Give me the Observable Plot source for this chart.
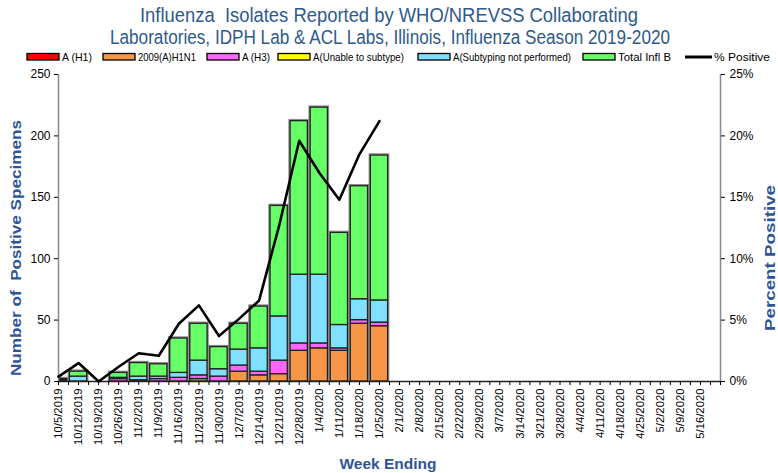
<!DOCTYPE html>
<html><head><meta charset="utf-8">
<script src="https://cdn.jsdelivr.net/npm/d3@7"></script>
<script src="https://cdn.jsdelivr.net/npm/@observablehq/plot@0.6"></script>
<style>
body{margin:0;background:#fff;}
#wrap{position:relative;width:778px;height:473px;overflow:hidden;font-family:"Liberation Sans",Arial,sans-serif;}
#wrap svg{position:absolute;left:0;top:0;}
</style></head><body><div id="wrap"></div>
<script>
const weeks = ["10/5/2019","10/12/2019","10/19/2019","10/26/2019","11/2/2019","11/9/2019","11/16/2019","11/23/2019","11/30/2019","12/7/2019","12/14/2019","12/21/2019","12/28/2019","1/4/2020","1/11/2020","1/18/2020","1/25/2020","2/1/2020","2/8/2020","2/15/2020","2/22/2020","2/29/2020","3/7/2020","3/14/2020","3/21/2020","3/28/2020","4/4/2020","4/11/2020","4/18/2020","4/25/2020","5/2/2020","5/9/2020","5/16/2020"];
const aH1          = [0,0,0,0,0,0,0,0,0,0,0,0,0,0,0,0,0, 0,0,0,0,0,0,0,0,0,0,0,0,0,0,0,0];
const h1n1         = [0,0,0,0,0,0,0,2,0,8,5,6,25,27,25,47,45, 0,0,0,0,0,0,0,0,0,0,0,0,0,0,0,0];
const aH3          = [0,0,0,2,1,2,3,3,4,5,3,11,6,4,2,3,3, 0,0,0,0,0,0,0,0,0,0,0,0,0,0,0,0];
const unable       = [0,0,0,0,0,0,0,0,0,0,0,0,0,0,0,0,0, 0,0,0,0,0,0,0,0,0,0,0,0,0,0,0,0];
const notPerformed = [1,4,0,1,3,2,4,12,6,13,19,36,56,56,19,17,18, 0,0,0,0,0,0,0,0,0,0,0,0,0,0,0,0];
const inflB        = [1,4,0,4,11,10,28,30,18,21,34,90,125,136,75,92,118, 0,0,0,0,0,0,0,0,0,0,0,0,0,0,0,0];
const pctPositive  = [0.4,1.5,0,1.2,2.3,2.1,4.7,6.2,3.7,5.1,6.6,12.7,19.6,17.0,14.8,18.5,21.2];
const countTicks = [0,50,100,150,200,250];
const pctTicks = [0,5,10,15,20,25];
const seriesNames = ["A (H1)","2009(A)H1N1","A (H3)","A(Unable to subtype)","A(Subtyping not performed)","Total Infl B"];
const seriesColors = ["#FF0000","#F79646","#FF66FF","#FFFF00","#80E0FF","#66FF66"];
const lineLabel = "% Positive";
const titleLines = ["Influenza  Isolates Reported by WHO/NREVSS Collaborating","Laboratories, IDPH Lab & ACL Labs, Illinois, Influenza Season 2019-2020"];
const yLabelLeft = "Number of  Positive Specimens";
const yLabelRight = "Percent Positive";
const xLabel = "Week Ending";

const seriesValues = [aH1,h1n1,aH3,unable,notPerformed,inflB];
const rows = [];
weeks.forEach((w,i)=>seriesNames.forEach((s,k)=>rows.push({i, week:w, series:s, value:seriesValues[k][i]})));
const totals = weeks.map((w,i)=>({i, total:d3.sum(seriesValues, v=>v[i])}));
const pct = pctPositive.map((p,i)=>({i, pct:p}));
const hw = 0.43;

const plot = Plot.plot({
  width:778, height:473, marginLeft:58, marginRight:58, marginTop:74, marginBottom:92,
  style:{fontFamily:'"Liberation Sans",Arial,sans-serif', fontSize:"12px", color:"#000", background:"transparent"},
  x:{type:"linear", domain:[0,33], axis:null},
  y:{domain:[0,250], axis:null},
  color:{domain:seriesNames, range:seriesColors},
  marks:[
    Plot.rect(totals,{x1:d=>d.i-hw, x2:d=>d.i+hw, y1:0, y2:"total", fill:"none", stroke:"#8c8c8c", strokeWidth:3.5, clip:true}),
    Plot.rectY(rows,{x1:d=>d.i-hw, x2:d=>d.i+hw, y:"value", fill:"series", stroke:"#222", strokeWidth:1.3, clip:true}),
    Plot.ruleX([0],{stroke:"#888", strokeWidth:1.5}),
    Plot.ruleX([33],{stroke:"#888", strokeWidth:1.5}),
    Plot.ruleY([0],{stroke:"#222", strokeWidth:1.5}),
    Plot.line(pct,{x:"i", y:d=>d.pct*10, stroke:"#000", strokeWidth:2.6}),
    Plot.axisY({ticks:countTicks, anchor:"left", tickSize:4, tickPadding:4, label:null, fontSize:12}),
    Plot.axisY({ticks:pctTicks.map(p=>p*10), anchor:"right", tickSize:4, tickPadding:5, label:null, fontSize:12, tickFormat:d=>(d/10)+"%"}),
    Plot.axisX({ticks:d3.range(0,33.01,0.5), anchor:"bottom", tickSize:4, label:null, tickFormat:()=>""}),
    Plot.axisX({ticks:d3.range(0,33), anchor:"bottom", tickSize:0, tickPadding:7, tickRotate:-90, label:null, fontSize:11.3, tickFormat:i=>weeks[i]})
  ]
});
const wrap = document.getElementById("wrap");
wrap.appendChild(plot);

// overlay: title, legend, axis titles
const ov = d3.select(wrap).append("svg").attr("width",778).attr("height",473)
  .style("font-family",'"Liberation Sans Narrow","Arial Narrow","Liberation Sans",Arial,sans-serif');
const tl = [{x:389,y:22,len:498},{x:390,y:44,len:560}];
titleLines.forEach((t,k)=>ov.append("text").attr("x",tl[k].x).attr("y",tl[k].y).attr("text-anchor","middle")
  .attr("font-size",20).attr("fill","#2E5A8C").attr("textLength",tl[k].len).attr("lengthAdjust","spacingAndGlyphs")
  .style("white-space","pre").text(t));
const legX = [27,103,207,278,418,583];
const legLen = [30,58,28,91,118,53];
seriesNames.forEach((s,k)=>{
  ov.append("rect").attr("x",legX[k]).attr("y",53.5).attr("width",32).attr("height",6.5)
    .attr("fill",seriesColors[k]).attr("stroke","#000").attr("stroke-width",1.3);
  ov.append("text").attr("x",legX[k]+35).attr("y",61).attr("font-size",11.5).attr("fill","#000")
    .attr("textLength",legLen[k]).attr("lengthAdjust","spacingAndGlyphs").text(s);
});
ov.append("line").attr("x1",685).attr("x2",712).attr("y1",57).attr("y2",57).attr("stroke","#000").attr("stroke-width",3);
ov.append("text").attr("x",714).attr("y",61).attr("font-size",11.5).attr("fill","#000")
  .attr("textLength",56).attr("lengthAdjust","spacingAndGlyphs").text(lineLabel);
ov.append("text").attr("transform","translate(21,248) rotate(-90)").attr("text-anchor","middle")
  .attr("font-size",14.5).attr("font-weight","bold").attr("fill","#2F5597").style("font-family",'"Liberation Sans",Arial,sans-serif')
  .style("white-space","pre").attr("textLength",256).attr("lengthAdjust","spacingAndGlyphs").text(yLabelLeft);
ov.append("text").attr("transform","translate(775,258) rotate(-90)").attr("text-anchor","middle")
  .attr("font-size",14.5).attr("font-weight","bold").attr("fill","#2F5597").style("font-family",'"Liberation Sans",Arial,sans-serif')
  .attr("textLength",146).attr("lengthAdjust","spacingAndGlyphs").text(yLabelRight);
ov.append("text").attr("x",388).attr("y",469).attr("text-anchor","middle")
  .attr("font-size",15).attr("font-weight","bold").attr("fill","#2F5597").style("font-family",'"Liberation Sans",Arial,sans-serif')
  .attr("textLength",97).attr("lengthAdjust","spacingAndGlyphs").text(xLabel);
</script></body></html>
